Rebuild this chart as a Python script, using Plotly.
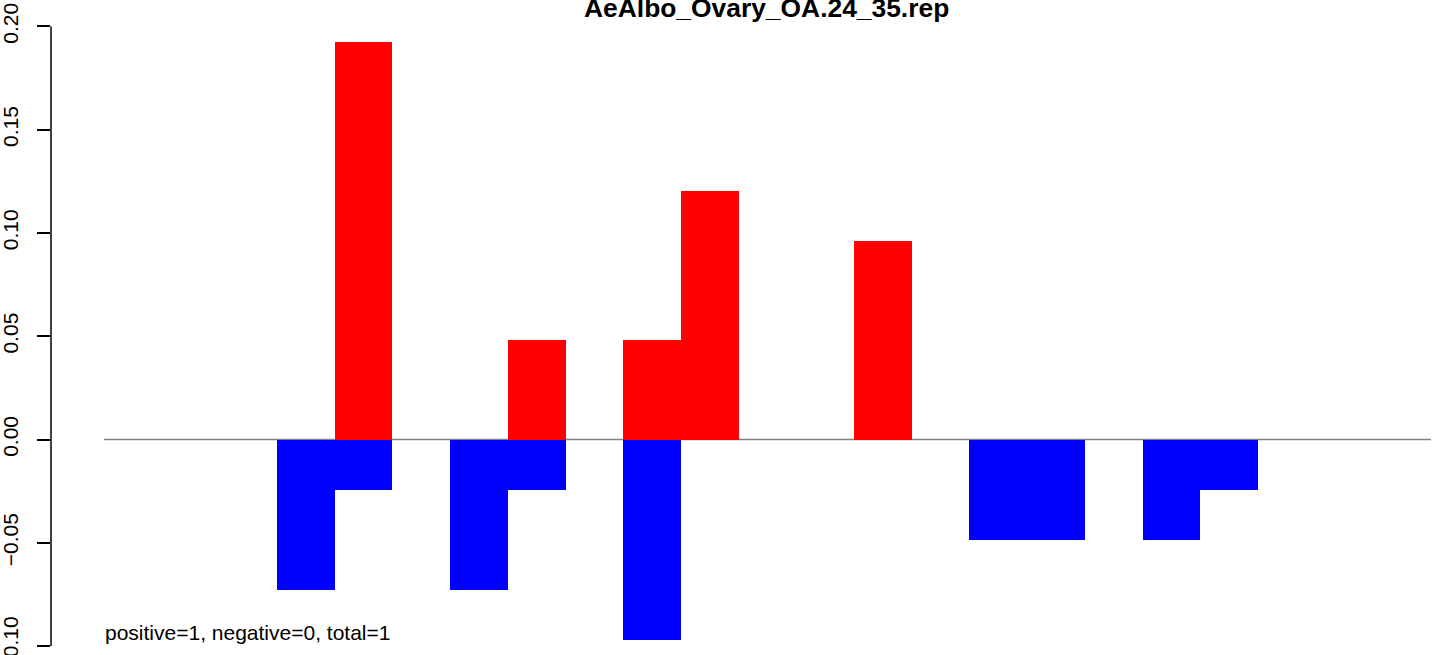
import plotly.graph_objects as go

title = "AeAlbo_Ovary_OA.24_35.rep"
note = "positive=1, negative=0, total=1"

# bin positions (23 bins)
bins = list(range(1, 24))
positive = [0, 0, 0, 0, 0.1925, 0, 0, 0.0481, 0, 0.0481, 0.1203, 0, 0, 0.0962, 0, 0, 0, 0, 0, 0, 0, 0, 0]
negative = [0, 0, 0, -0.0729, -0.0245, 0, -0.0729, -0.0245, 0, -0.0970, 0, 0, 0, 0, 0, -0.0487, -0.0487, 0, -0.0487, -0.0245, 0, 0, 0]

tick_vals = [-0.10, -0.05, 0.00, 0.05, 0.10, 0.15, 0.20]
tick_text = ["\u22120.10", "\u22120.05", "0.00", "0.05", "0.10", "0.15", "0.20"]

FONT = "Liberation Sans, Arial, Helvetica, sans-serif"

fig = go.Figure()
fig.add_trace(go.Bar(x=bins, y=positive, width=1, marker=dict(color="#FF0000", line=dict(width=0)), showlegend=False))
fig.add_trace(go.Bar(x=bins, y=negative, width=1, marker=dict(color="#0000FF", line=dict(width=0)), showlegend=False))

# zero reference line
fig.add_shape(type="line", xref="x", yref="y", x0=bins[0] - 0.5, x1=bins[-1] + 0.5, y0=0, y1=0,
              line=dict(color="#808080", width=1.5), layer="below")
# y axis line spanning ticks only
fig.add_shape(type="line", xref="paper", yref="y", x0=0, x1=0, y0=tick_vals[0], y1=tick_vals[-1],
              line=dict(color="black", width=1.5))

fig.add_annotation(text="<b>" + title + "</b>", xref="paper", yref="paper",
                   x=(766.5 - 51) / (1444 - 51), y=1 - 8 / 655, xanchor="center", yanchor="middle",
                   showarrow=False, font=dict(family=FONT, size=26.4, color="black"))
fig.add_annotation(text=note, xref="paper", yref="paper",
                   x=(103 - 51) / (1444 - 51), y=1 - 632 / 655, xanchor="left", yanchor="middle",
                   showarrow=False, font=dict(family=FONT, size=21, color="black"))

fig.update_layout(
    width=1444, height=655,
    margin=dict(l=51, r=0, t=0, b=0, autoexpand=False),
    paper_bgcolor="white", plot_bgcolor="white",
    barmode="relative", bargap=0,
    xaxis=dict(range=[-0.417, 23.725], visible=False, showgrid=False, zeroline=False, automargin=False),
    yaxis=dict(range=[-0.1043, 0.2128], tickvals=tick_vals, ticktext=tick_text, automargin=False,
               tickangle=-90, ticks="outside", ticklen=13, tickwidth=1.5, tickcolor="black",
               showline=False, showgrid=False, zeroline=False, ticklabeloverflow="allow",
               tickfont=dict(family=FONT, size=21, color="black"), ticklabelstandoff=11),
)

fig.write_html("out.html", config={"displayModeBar": False},
               post_script="document.body.style.margin='0';document.body.style.overflow='hidden';")
